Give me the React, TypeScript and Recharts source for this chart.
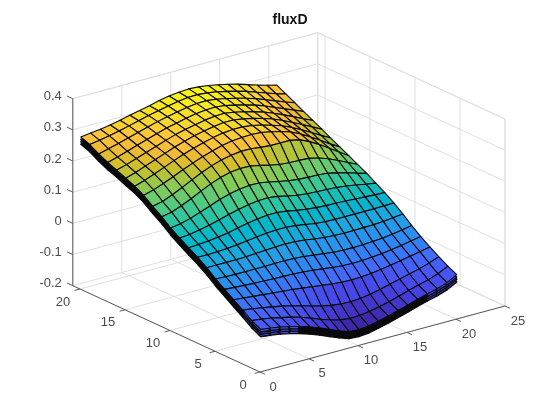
import React from 'react';
import { ScatterChart, Scatter, XAxis, YAxis } from 'recharts';

const xGrid = [1, 2, 3, 4, 5, 6, 7, 8, 9, 10, 11, 12, 13, 14, 15, 16, 17, 18, 19, 20, 21];
const yGrid = [1, 2, 3, 4, 5, 6, 7, 8, 9, 10, 11, 12, 13, 14, 15, 16, 17, 18, 19, 20, 21];

// fluxD, one row per y value
const fluxD = [
  [-.085, -.089, -.094, -.101, -.109, -.119, -.131, -.144, -.157, -.168, -.170, -.167, -.160, -.152, -.143, -.134, -.124, -.115, -.107, -.096, -.079],
  [-.070, -.074, -.079, -.086, -.093, -.102, -.113, -.125, -.136, -.144, -.148, -.147, -.143, -.136, -.128, -.119, -.109, -.100, -.092, -.081, -.065],
  [-.050, -.054, -.059, -.065, -.071, -.078, -.087, -.096, -.104, -.111, -.115, -.116, -.114, -.109, -.102, -.094, -.086, -.078, -.070, -.060, -.048],
  [-.030, -.033, -.036, -.039, -.042, -.045, -.048, -.052, -.056, -.060, -.064, -.067, -.068, -.067, -.064, -.060, -.055, -.049, -.043, -.037, -.030],
  [-.010, -.012, -.014, -.016, -.017, -.018, -.019, -.020, -.022, -.025, -.029, -.033, -.036, -.037, -.036, -.034, -.031, -.027, -.022, -.016, -.010],
  [.010, .009, .008, .008, .008, .008, .009, .009, .008, .006, .002, -.002, -.006, -.008, -.008, -.007, -.005, -.003, .001, .006, .012],
  [.033, .033, .033, .033, .034, .036, .038, .040, .041, .040, .037, .032, .028, .026, .025, .025, .026, .027, .029, .032, .036],
  [.053, .053, .054, .056, .059, .063, .067, .071, .073, .073, .070, .065, .060, .057, .056, .056, .056, .056, .056, .057, .058],
  [.070, .072, .075, .079, .084, .091, .098, .103, .107, .107, .103, .097, .092, .089, .087, .086, .085, .083, .081, .079, .078],
  [.088, .091, .097, .104, .112, .121, .129, .136, .140, .141, .137, .130, .124, .120, .118, .117, .115, .111, .106, .100, .095],
  [.107, .112, .121, .132, .144, .156, .165, .172, .176, .175, .170, .163, .157, .153, .151, .150, .147, .140, .132, .122, .113],
  [.130, .136, .148, .162, .178, .193, .205, .213, .217, .216, .210, .202, .196, .193, .192, .190, .183, .172, .158, .143, .128],
  [.150, .157, .170, .185, .201, .216, .229, .239, .246, .250, .250, .246, .243, .243, .243, .236, .222, .204, .184, .163, .143],
  [.172, .181, .193, .206, .220, .233, .245, .255, .264, .270, .273, .274, .272, .266, .258, .248, .233, .215, .196, .176, .158],
  [.188, .198, .210, .223, .236, .248, .259, .268, .276, .282, .285, .285, .281, .274, .265, .255, .241, .225, .208, .190, .173],
  [.200, .210, .222, .234, .246, .258, .268, .277, .284, .290, .294, .294, .289, .282, .273, .263, .250, .235, .220, .204, .188],
  [.213, .222, .233, .244, .255, .266, .276, .284, .291, .297, .301, .302, .297, .290, .281, .272, .260, .246, .232, .217, .203],
  [.224, .233, .243, .254, .264, .274, .284, .291, .298, .304, .308, .309, .305, .298, .290, .281, .270, .257, .244, .231, .218],
  [.238, .246, .255, .264, .273, .282, .291, .298, .305, .311, .315, .316, .312, .306, .298, .290, .280, .268, .256, .244, .233],
  [.255, .260, .266, .273, .281, .289, .297, .304, .311, .317, .321, .322, .319, .314, .307, .299, .290, .279, .268, .257, .248],
  [.266, .270, .274, .279, .286, .293, .300, .307, .315, .321, .325, .327, .325, .321, .315, .308, .300, .290, .280, .271, .263],
];

// the plot stacks a few nearly equal surfaces, these are the gaps below the top one
const layerDrops = [.023, .015, .008];

const xTicks = [0, 5, 10, 15, 20, 25];
const yTicks = [0, 5, 10, 15, 20];
const zTicks = [-.2, -.1, 0, .1, .2, .3, .4];
const zTickLabels = ['-0.2', '-0.1', '0', '0.1', '0.2', '0.3', '0.4'];
const title = 'fluxD';

const xMax = 25;
const yMax = 20.8;
const zMin = -.2;
const zMax = .4;

const colorMin = -.17;
const colorMax = .33;

const parula = [
  [.2422, .1504, .6603], [.2783, .2559, .8991], [.2699, .3892, .9906], [.1786, .5289, .9682],
  [.1248, .6459, .8883], [.0036, .7203, .7917], [.2161, .7843, .5923], [.5044, .7993, .3480],
  [.8203, .7498, .1535], [.9393, .7288, .2100], [.9970, .7659, .2199], [.9676, .8639, .1643],
  [.9769, .9839, .0805],
];
const parulaPos = [0, 6, 12, 18, 24, 30, 36, 42, 48, 51, 54, 58, 63];

const WIDTH = 557;
const HEIGHT = 418;

const project = (x: number, y: number, z: number) => ({
  px: 260 + 9.8 * x - 9 * y,
  py: 372 - 2.64 * x - 4.15 * y - 311.7 * (z - zMin),
});

const colorOf = (z: number) => {
  const t = Math.min(1, Math.max(0, (z - colorMin) / (colorMax - colorMin))) * 63;
  let i = 0;
  while (i < parulaPos.length - 2 && parulaPos[i + 1] < t) i++;
  const f = (t - parulaPos[i]) / (parulaPos[i + 1] - parulaPos[i]);
  const c = parula[i].map((v, k) => Math.round(255 * (v + (parula[i + 1][k] - v) * f)));
  return `rgb(${c[0]},${c[1]},${c[2]})`;
};

const makeCell = (i: number, j: number, drop: number, fill?: string) => {
  const corners = [
    project(xGrid[i], yGrid[j], fluxD[j][i] - drop),
    project(xGrid[i + 1], yGrid[j], fluxD[j][i + 1] - drop),
    project(xGrid[i + 1], yGrid[j + 1], fluxD[j + 1][i + 1] - drop),
    project(xGrid[i], yGrid[j + 1], fluxD[j + 1][i] - drop),
  ];
  return {
    px: corners[0].px,
    py: corners[0].py,
    // x and y axes below run 1:1 with pixels, so offsets stay valid after scaling
    offsets: corners.map((c) => [c.px - corners[0].px, c.py - corners[0].py]),
    color: fill ?? colorOf(fluxD[j][i] - drop),
    line: drop > 0 ? 1.4 : 1.1,
  };
};

const skirtCells = layerDrops.flatMap((drop) => {
  const out = [];
  for (let j = xGrid.length - 2; j >= 0; j--) out.push(makeCell(0, j, drop, j > 1 ? '#0a0a14' : undefined));
  for (let i = xGrid.length - 2; i >= 0; i--) out.push(makeCell(i, 0, drop, i > 3 && i < 17 ? '#0a0a14' : undefined));
  return out;
});

const topCells: ReturnType<typeof makeCell>[] = [];
for (let j = yGrid.length - 2; j >= 0; j--) {
  for (let i = xGrid.length - 2; i >= 0; i--) topCells.push(makeCell(i, j, 0));
}

const segment = (a: number[], b: number[]) => [project(a[0], a[1], a[2]), project(b[0], b[1], b[2])];

const gridSegments = [
  ...xTicks.map((x) => segment([x, 0, zMin], [x, yMax, zMin])),
  ...yTicks.map((y) => segment([0, y, zMin], [xMax, y, zMin])),
  ...xTicks.map((x) => segment([x, yMax, zMin], [x, yMax, zMax])),
  ...yTicks.map((y) => segment([xMax, y, zMin], [xMax, y, zMax])),
  ...zTicks.map((z) => segment([0, yMax, z], [xMax, yMax, z])),
  ...zTicks.map((z) => segment([xMax, 0, z], [xMax, yMax, z])),
  segment([xMax, yMax, zMin], [xMax, yMax, zMax]),
  segment([xMax, 0, zMin], [xMax, 0, zMax]),
  segment([xMax, 0, zMin], [xMax, yMax, zMin]),
  segment([0, yMax, zMax], [xMax, yMax, zMax]),
  segment([xMax, 0, zMax], [xMax, yMax, zMax]),
];

const axisSegments = [
  segment([0, 0, zMin], [xMax, 0, zMin]),
  segment([0, 0, zMin], [0, yMax, zMin]),
  segment([0, yMax, zMin], [0, yMax, zMax]),
  ...xTicks.map((x) => segment([x, 0, zMin], [x, -.55, zMin])),
  ...yTicks.map((y) => segment([0, y, zMin], [-.55, y, zMin])),
  ...zTicks.map((z) => segment([0, yMax, z], [0, yMax + .65, z])),
];

const labels = [
  ...xTicks.map((x) => ({ ...project(x, 0, zMin), text: String(x), dx: 13, dy: 14, anchor: 'middle', size: 13, weight: 400, fill: '#4a4a4a' })),
  ...yTicks.map((y) => ({ ...project(0, y, zMin), text: String(y), dx: -17, dy: 12, anchor: 'middle', size: 13, weight: 400, fill: '#4a4a4a' })),
  ...zTicks.map((z, k) => ({ ...project(0, yMax, z), text: zTickLabels[k], dx: -11, dy: -3, anchor: 'end', size: 13, weight: 400, fill: '#4a4a4a' })),
  { px: 290, py: 19, text: title, dx: 0, dy: 0, anchor: 'middle', size: 14, weight: 700, fill: '#111111' },
];

const NoMark = () => <g />;

const CellMark = (props: any) => {
  const { cx, cy, payload } = props;
  const points = payload.offsets.map((o: number[]) => `${cx + o[0]},${cy + o[1]}`).join(' ');
  return <polygon points={points} fill={payload.color} stroke="#0a0a0a" strokeWidth={payload.line} strokeLinejoin="round" />;
};

const LabelMark = (props: any) => {
  const { cx, cy, payload } = props;
  return (
    <text
      x={cx + payload.dx}
      y={cy + payload.dy}
      textAnchor={payload.anchor}
      dominantBaseline="central"
      fontFamily="'Liberation Sans', Arial, sans-serif"
      fontSize={payload.size}
      fontWeight={payload.weight}
      fill={payload.fill}
    >
      {payload.text}
    </text>
  );
};

export default function App() {
  return (
    <div style={{ position: 'absolute', left: 0, top: 0, width: WIDTH, height: HEIGHT, background: '#fff', filter: 'blur(0.4px)' }}>
      <ScatterChart width={WIDTH} height={HEIGHT} margin={{ top: 0, right: 0, bottom: 0, left: 0 }}>
        <XAxis type="number" dataKey="px" domain={[0, WIDTH]} hide />
        <YAxis type="number" dataKey="py" domain={[0, HEIGHT]} reversed hide />
        {gridSegments.map((seg, k) => (
          <Scatter key={`grid-${k}`} data={seg} line={{ stroke: '#dfdfdf', strokeWidth: 1 }} shape={NoMark} isAnimationActive={false} />
        ))}
        {axisSegments.map((seg, k) => (
          <Scatter key={`axis-${k}`} data={seg} line={{ stroke: '#5a5a5a', strokeWidth: 1 }} shape={NoMark} isAnimationActive={false} />
        ))}
        <Scatter data={skirtCells} shape={CellMark} isAnimationActive={false} />
        <Scatter data={topCells} shape={CellMark} isAnimationActive={false} />
        <Scatter data={labels} shape={LabelMark} isAnimationActive={false} />
      </ScatterChart>
    </div>
  );
}
